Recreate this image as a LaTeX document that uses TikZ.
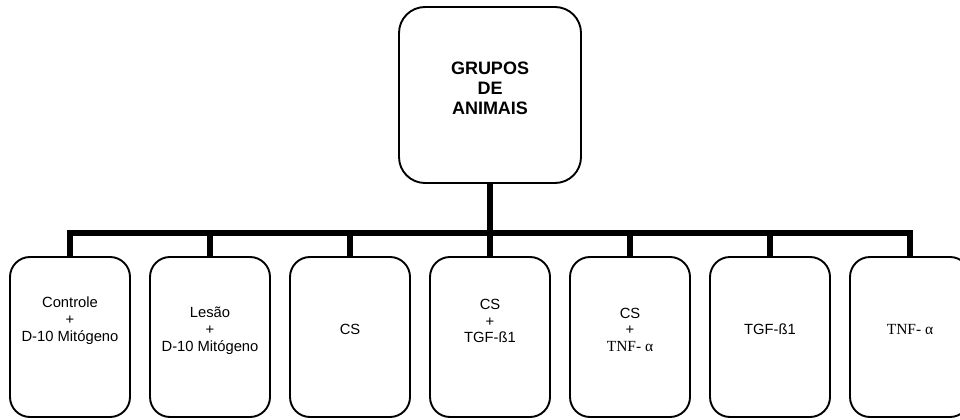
\documentclass[tikz,border=0pt]{standalone}
\usepackage{fontspec}
\setmainfont{Liberation Sans}
\newfontfamily\serifa{Liberation Serif}
\usepackage{tikz}
\usetikzlibrary{positioning,calc}

\begin{document}
\begin{tikzpicture}[
  x=1cm,y=1cm,
  grupo/.style={draw=black, line width=1.35pt, rounded corners=0.65cm, minimum width=4.55cm, minimum height=4.4cm},
  caixa/.style={draw=black, line width=1.35pt, rounded corners=0.5cm, minimum width=3cm, minimum height=4cm},
  rotulo/.style={align=center, inner sep=0pt, font=\fontsize{10.5}{12}\selectfont},
  titulo/.style={align=center, inner sep=0pt, font=\bfseries\fontsize{12.8}{14.2}\selectfont},
  barra/.style={line width=4.6pt, draw=black}
]
\useasboundingbox (0,0) rectangle (24,10.475);
\clip (0,0) rectangle (24,10.475);
% caixa de cima
\node[grupo] (grupos) at (12.25,8.1) {};
\node[titulo] (tgrupos) at ([yshift=0.16cm]grupos.center) {GRUPOS\\DE\\ANIMAIS};
% grupos
\node[caixa] (g1) at (1.75,2.05) {};
\node[caixa] (g2) at (5.25,2.05) {};
\node[caixa] (g3) at (8.75,2.05) {};
\node[caixa] (g4) at (12.25,2.05) {};
\node[caixa] (g5) at (15.75,2.05) {};
\node[caixa] (g6) at (19.25,2.05) {};
\node[caixa] (g7) at (22.75,2.05) {};
\node[rotulo] (t1) at ([yshift=0.4cm]g1.center) {Controle\\+\\D-10 Mitógeno};
\node[rotulo] (t2) at ([yshift=0.15cm]g2.center) {Lesão\\+\\D-10 Mitógeno};
\node[rotulo] (t3) at ([yshift=0.18cm]g3.center) {CS};
\node[rotulo] (t4) at ([yshift=0.4cm]g4.center) {CS\\+\\TGF-ß1};
\node[rotulo] (t5) at ([yshift=0.18cm]g5.center) {CS\\+\\{\serifa\fontsize{11}{12}\selectfont TNF- α}};
\node[rotulo] (t6) at ([yshift=0.2cm]g6.center) {TGF-ß1};
\node[rotulo, font=\serifa\fontsize{11}{12}\selectfont] (t7) at ([yshift=0.18cm]g7.center) {TNF- α};
% ligacoes
\coordinate (hub) at (12.25,4.65);
\draw[barra] (grupos) -- (hub);
\draw[barra] (g1.north) -- (g1.north |- hub) -- (g7.north |- hub) -- (g7.north);
\draw[barra] (g2.north) -- (g2.north |- hub);
\draw[barra] (g3.north) -- (g3.north |- hub);
\draw[barra] (g4.north) -- (hub);
\draw[barra] (g5.north) -- (g5.north |- hub);
\draw[barra] (g6.north) -- (g6.north |- hub);
\end{tikzpicture}
\end{document}
